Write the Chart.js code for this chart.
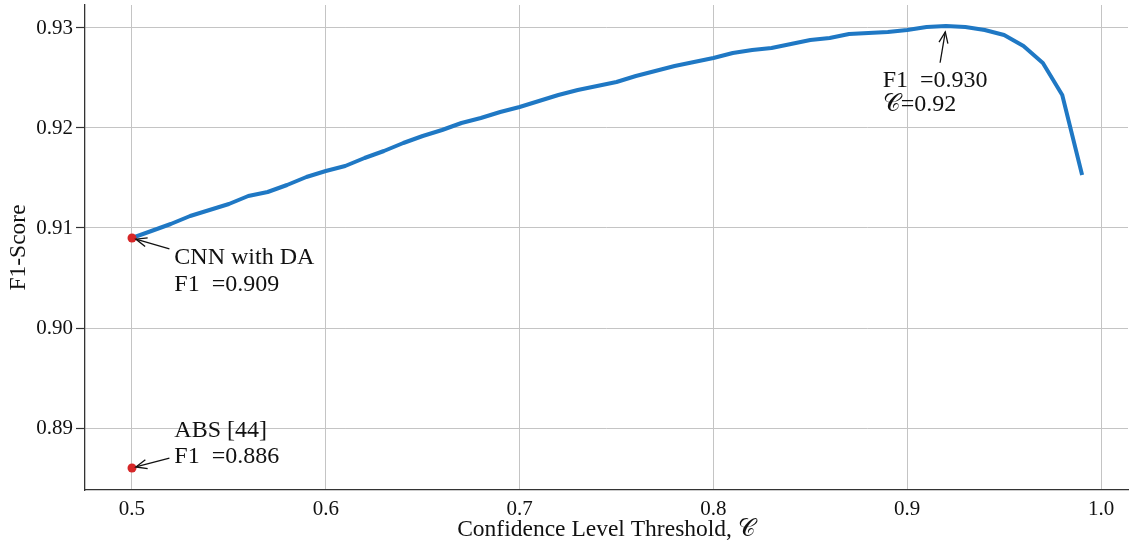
<!DOCTYPE html>
<html><head><meta charset="utf-8">
<script src="https://cdn.jsdelivr.net/npm/chart.js@4.4.1/dist/chart.umd.min.js"></script>
<style>html,body{margin:0;padding:0;background:#fff;} canvas{display:block;}</style>
</head><body>
<canvas id="c" width="1133" height="550"></canvas>
<script>
// ---- data ----
const thresholds = [0.50,0.51,0.52,0.53,0.54,0.55,0.56,0.57,0.58,0.59,
                    0.60,0.61,0.62,0.63,0.64,0.65,0.66,0.67,0.68,0.69,
                    0.70,0.71,0.72,0.73,0.74,0.75,0.76,0.77,0.78,0.79,
                    0.80,0.81,0.82,0.83,0.84,0.85,0.86,0.87,0.88,0.89,
                    0.90,0.91,0.92,0.93,0.94,0.95,0.96,0.97,0.98,0.99];
const f1Scores = [0.9090,0.9097,0.9104,0.9112,0.9118,0.9124,0.9132,0.9136,0.9143,0.9151,
                  0.9157,0.9162,0.9170,0.9177,0.9185,0.9192,0.9198,0.9205,0.9210,0.9216,
                  0.9221,0.9227,0.9233,0.9238,0.9242,0.9246,0.9252,0.9257,0.9262,0.9266,
                  0.9270,0.9275,0.9278,0.9280,0.9284,0.9288,0.9290,0.9294,0.9295,0.9296,
                  0.9298,0.9301,0.9302,0.9301,0.9298,0.9293,0.9282,0.9265,0.9233,0.9155];
const baselineNames = ['CNN with DA', 'ABS [44]'];
const baselineThresholds = [0.5, 0.5];
const baselineScores = [0.909, 0.886];
const bestThreshold = 0.92;
const bestScore = 0.930;
const xTicks = [0.5, 0.6, 0.7, 0.8, 0.9, 1.0];
const yTicks = [0.89, 0.90, 0.91, 0.92, 0.93];
const xLabel = 'Confidence Level Threshold, \u{1D49E}';
const yLabel = 'F1-Score';

// ---- annotation placement (text anchor in data coords) ----
const annotations = [
  {lines:[baselineNames[0], 'F1  =' + baselineScores[0].toFixed(3)], point:[baselineThresholds[0], baselineScores[0]], textAt:[0.52183, 0.90637], spacing:26.6},
  {lines:[baselineNames[1], 'F1  =' + baselineScores[1].toFixed(3)], point:[baselineThresholds[1], baselineScores[1]], textAt:[0.52183, 0.88913], spacing:26.6},
  {lines:['F1  =' + bestScore.toFixed(3), '\u{1D49E}=' + bestThreshold.toFixed(2)], point:[bestThreshold, bestScore], textAt:[0.88736, 0.92413], spacing:24.4}
];

const FONT = '"Liberation Serif", "DejaVu Serif", serif';
Chart.defaults.font.family = FONT;

const annotPlugin = {
  id: 'annot',
  afterDatasetsDraw(chart) {
    const {ctx, scales: {x, y}} = chart;
    ctx.save();
    ctx.font = '24px ' + FONT;
    ctx.fillStyle = '#111';
    ctx.textBaseline = 'alphabetic';
    ctx.textAlign = 'left';
    annotations.forEach(a => {
      const tx = x.getPixelForValue(a.textAt[0]);
      const ty = y.getPixelForValue(a.textAt[1]);
      let w = 0;
      a.lines.forEach((l, i) => {
        ctx.fillText(l, tx, ty + i * a.spacing);
        w = Math.max(w, ctx.measureText(l).width);
      });
      const top = ty - 21, bottom = ty + (a.lines.length - 1) * a.spacing + 7;
      const left = tx - 2, right = tx + w + 2;
      const cx = (left + right) / 2, cy = (top + bottom) / 2;
      const px = x.getPixelForValue(a.point[0]), py = y.getPixelForValue(a.point[1]);
      const dx = px - cx, dy = py - cy;
      let t = Infinity;
      if (dx !== 0) t = Math.min(t, ((dx < 0 ? left : right) - cx) / dx);
      if (dy !== 0) t = Math.min(t, ((dy < 0 ? top : bottom) - cy) / dy);
      const len = Math.hypot(dx, dy);
      const ux = dx / len, uy = dy / len;
      const sx = cx + dx * t + ux * 3, sy = cy + dy * t + uy * 3;
      const ex = px - ux * 4, ey = py - uy * 4;
      ctx.strokeStyle = '#111';
      ctx.lineWidth = 1.3;
      ctx.beginPath(); ctx.moveTo(sx, sy); ctx.lineTo(ex, ey); ctx.stroke();
      const hl = 11, hw = 4.5;
      ctx.beginPath();
      ctx.moveTo(ex - ux * hl - uy * hw, ey - uy * hl + ux * hw);
      ctx.lineTo(ex, ey);
      ctx.lineTo(ex - ux * hl + uy * hw, ey - uy * hl - ux * hw);
      ctx.stroke();
    });
    ctx.restore();
  }
};

new Chart(document.getElementById('c').getContext('2d'), {
  type: 'line',
  data: {
    datasets: [
      {
        label: 'baselines', type: 'scatter',
        data: baselineThresholds.map((t, i) => ({x: t, y: baselineScores[i]})),
        backgroundColor: '#d62728', borderColor: '#d62728', pointRadius: 4.5, pointBorderWidth: 0, order: 0
      },
      {
        label: 'F1', 
        data: thresholds.map((t, i) => ({x: t, y: f1Scores[i]})),
        borderColor: '#1f78c4', borderWidth: 4, pointRadius: 0, fill: false, tension: 0,
        borderJoinStyle: 'round', borderCapStyle: 'square', order: 1
      }
    ]
  },
  options: {
    responsive: false, animation: false, devicePixelRatio: 1,
    layout: {padding: {left: 0, right: 5, top: 5, bottom: 0}},
    plugins: {legend: {display: false}, tooltip: {enabled: false}},
    scales: {
      x: {
        type: 'linear', min: 0.47575, max: 1.01393,
        afterBuildTicks: s => { s.ticks = xTicks.map(v => ({value: v})); },
        afterFit: s => { s.height = 60; s.paddingLeft = 0; s.paddingRight = 0; },
        ticks: {callback: v => Number(v).toFixed(1), font: {size: 21}, color: '#111', padding: 7, maxRotation: 0, autoSkip: false},
        grid: {color: '#c4c4c4', lineWidth: 1, drawTicks: false},
        border: {color: '#333', width: 1.3},
        title: {display: true, text: xLabel, font: {size: 23.5}, color: '#111', padding: {top: 0, bottom: 6}}
      },
      y: {
        type: 'linear', min: 0.8838, max: 0.9323,
        afterBuildTicks: s => { s.ticks = yTicks.map(v => ({value: v})); },
        afterFit: s => { s.width = 85; s.paddingTop = 0; s.paddingBottom = 0; },
        ticks: {callback: v => Number(v).toFixed(2), font: {size: 21}, color: '#111', padding: 3, autoSkip: false},
        grid: {color: '#c4c4c4', lineWidth: 1, drawTicks: true, tickLength: 9, tickColor: '#333', tickWidth: 1.2},
        border: {color: '#333', width: 1.3},
        title: {display: true, text: yLabel, font: {size: 23.5}, color: '#111', padding: {top: 5, bottom: 0}}
      }
    }
  },
  plugins: [annotPlugin]
});
</script>
</body></html>
